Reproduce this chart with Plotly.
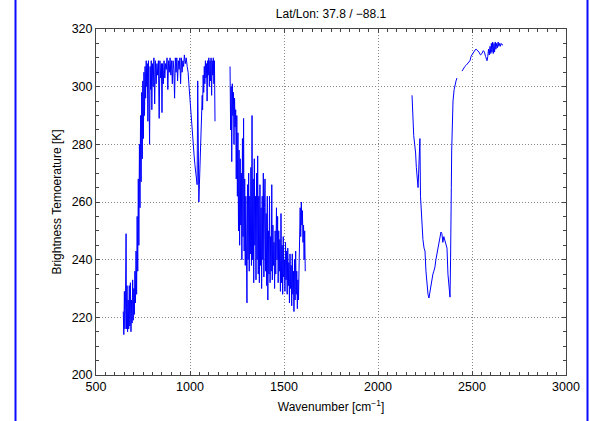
import plotly.graph_objects as go

# Longwave window + CO2 edge (cm-1, K)
wn_lw = [645, 648, 651, 654, 657, 660, 662, 665, 668, 671, 674, 677, 680, 683, 686, 689, 692, 695, 698,
         701, 704, 707, 710, 713, 716, 719, 722, 725, 728, 731, 734, 737, 740, 743, 746, 749, 752, 755,
         758, 761, 764, 767, 770, 773, 776, 779, 782, 785, 788, 791, 794, 797, 800, 804, 808, 812, 816,
         820, 824, 828, 832, 836, 840, 844, 848, 851, 854, 858, 862, 866, 870, 874, 878, 882, 886, 890,
         894, 898, 902, 906, 910, 914, 918, 922, 926, 930, 934, 938, 942, 946, 950, 954, 958, 962, 966,
         970, 975, 980, 985, 990, 994, 998,
         1002, 1006, 1010, 1014, 1018, 1022, 1026, 1030, 1034, 1038, 1041, 1044, 1047, 1050, 1053, 1056,
         1059, 1062, 1065, 1067, 1070, 1073, 1076, 1079, 1082, 1085, 1088, 1091, 1094, 1097, 1100, 1103,
         1106, 1109, 1112, 1115, 1118, 1121, 1124, 1127, 1130, 1133]
tb_lw = [222, 214, 229, 216, 227, 249, 216, 231, 215, 226, 216, 231, 217, 232, 215, 226, 218, 233, 219,
         230, 221, 236, 225, 243, 228, 255, 236, 268, 245, 280, 258, 290, 267, 298, 275, 302, 282, 305,
         290, 307, 296, 309, 300, 308, 288, 309, 297, 280, 307, 299, 309, 292, 308, 300, 310, 294, 309,
         301, 308, 304, 309, 289, 309, 303, 308, 291, 308, 301, 309, 303, 308, 306, 310, 299, 309, 305,
         310, 304, 309, 301, 309, 306, 296, 310, 305, 310, 302, 309, 306, 310, 301, 310, 305, 309, 307,
         311, 308, 310, 307, 305, 301, 297,
         293, 289, 285, 281, 278, 276, 273, 271, 268, 266, 302, 263, 260, 266, 272, 278,
         285, 291, 297, 292, 304, 298, 307, 301, 309, 303, 308, 295, 309, 304, 310, 300,
         309, 302, 310, 297, 309, 304, 310, 301, 309, 288]

# Water vapour band
wn_wv = [1213, 1216, 1219, 1222, 1225, 1228, 1231, 1234, 1237, 1240, 1243, 1246, 1249, 1252, 1255, 1258,
         1261, 1264, 1267, 1270, 1273, 1276, 1279, 1282, 1285, 1288, 1291, 1294, 1297, 1300, 1303, 1306,
         1309, 1312, 1315, 1318, 1321, 1324, 1327, 1330, 1333, 1336, 1339, 1342, 1345, 1348, 1351, 1354,
         1357, 1360, 1363, 1366, 1369, 1372, 1375, 1378, 1381, 1384, 1387, 1390, 1393, 1396, 1399, 1402,
         1405, 1408, 1411, 1414, 1417, 1420, 1423, 1426, 1429, 1432, 1435, 1438, 1441, 1444, 1447, 1450,
         1453, 1456, 1460, 1463, 1466, 1469, 1472, 1475, 1478, 1481, 1484, 1487, 1490, 1493, 1496, 1499,
         1502, 1505, 1508, 1511, 1514, 1517, 1520, 1523, 1526, 1529, 1532, 1535, 1538, 1541, 1544, 1547,
         1550, 1553, 1556, 1559, 1562, 1565, 1568, 1571, 1574, 1577, 1580, 1583, 1586, 1589, 1592, 1595,
         1598, 1601, 1604, 1607, 1610, 1613]
tb_wv = [307, 285, 300, 274, 301, 290, 298, 280, 296, 286, 292, 268, 290, 262, 284, 250,
         278, 245, 275, 252, 270, 240, 282, 248, 289, 243, 268, 238, 262, 246, 225, 266,
         240, 270, 236, 262, 242, 272, 238, 290, 240, 268, 232, 275, 245, 262, 233, 270,
         240, 276, 235, 262, 232, 266, 238, 258, 230, 262, 240, 270, 234, 258, 268, 236,
         256, 231, 262, 226, 250, 235, 262, 232, 248, 236, 266, 233, 252, 238, 246, 230,
         250, 235, 258, 240, 255, 232, 250, 236, 247, 229, 256, 232, 245, 228, 248, 234,
         240, 229, 246, 233, 243, 228, 244, 231, 239, 225, 242, 230, 238, 224, 242, 228,
         236, 222, 240, 226, 243, 228, 236, 223, 233, 226, 244, 240, 258, 248, 260, 252,
         257, 246, 252, 240, 250, 236]

# 4.3 micron CO2 band
wn_co2 = [2181, 2183, 2186, 2190, 2195, 2200, 2204, 2207, 2210, 2213, 2216, 2219, 2223, 2226, 2229, 2234,
          2239, 2245, 2250, 2255, 2261, 2266, 2271, 2276, 2281, 2287, 2292, 2297, 2303, 2308, 2313, 2319,
          2325, 2330, 2335, 2340, 2345, 2350, 2356, 2362, 2367, 2372, 2377, 2383, 2386, 2388, 2390, 2392,
          2394, 2399, 2405, 2410, 2415, 2420]
tb_co2 = [297, 292, 286, 283, 280, 277, 272, 269, 266, 265, 270, 276, 282, 262, 258, 251,
          247, 244, 243, 236, 230.5, 228, 226.7, 229, 231, 233, 235, 236, 237.5, 240, 242, 244,
          246, 248, 249.6, 249, 246, 248, 246.8, 245, 244, 235, 231, 227, 240, 247, 265, 278,
          285, 295, 299, 301, 302, 303]

# Shortwave window
wn_sw = [2447, 2455, 2462, 2470, 2480, 2489, 2495, 2503, 2510, 2516, 2522, 2530, 2537, 2545, 2553, 2560,
         2566, 2572, 2578, 2580, 2584, 2588, 2592, 2596, 2600, 2603, 2606, 2610, 2613, 2617, 2620, 2624,
         2627, 2631, 2635, 2639, 2643, 2647, 2651, 2655, 2660, 2665]
tb_sw = [305.4, 306.5, 307, 307.5, 308.5, 309, 310.5, 311.5, 312, 312.7, 313, 312.5, 312, 311, 311.5, 312.5,
         312, 310.5, 309.5, 309, 310.5, 313, 311, 314, 311.5, 315, 312, 315.5, 311.5, 315, 312, 315.5,
         313, 315, 313.5, 315.5, 314, 315, 314, 315, 314.5, 314.5]

x_all, y_all = [], []
for wx, wy in [(wn_lw, tb_lw), (wn_wv, tb_wv), (wn_co2, tb_co2), (wn_sw, tb_sw)]:
    if x_all:
        x_all.append(None)
        y_all.append(None)
    x_all += wx
    y_all += wy

L, R, T, B = 96, 24, 29, 46
W, H = 590, 421
pw, ph = W - L - R, H - T - B

fig = go.Figure()
fig.add_trace(go.Scatter(x=x_all, y=y_all, mode="lines", connectgaps=False,
                         line=dict(color="#0000ff", width=1), hoverinfo="skip"))

axis_common = dict(showline=True, linecolor="#444", linewidth=1, mirror="ticks",
                   ticks="inside", ticklen=4, tickcolor="#444", automargin=False,
                   showgrid=True, gridcolor="#888", griddash="1px,2px", gridwidth=1,
                   zeroline=False, tickfont=dict(family="Liberation Sans, Arial", size=12.5, color="black"))

fig.update_layout(
    width=W, height=H,
    margin=dict(l=L, r=R, t=T, b=B, autoexpand=False),
    paper_bgcolor="white", plot_bgcolor="white",
    showlegend=False,
    font=dict(family="Liberation Sans, Arial", size=12, color="black"),
    title=dict(text="Lat/Lon: 37.8 / −88.1", x=(L + pw / 2) / W, xanchor="center",
               y=1 - 14 / H, yanchor="middle", yref="container",
               font=dict(size=12, family="Liberation Sans, Arial", color="black")),
    xaxis=dict(range=[500, 3000], tickvals=[500, 1000, 1500, 2000, 2500, 3000],
               minor=dict(dtick=50, ticks="inside", ticklen=3, tickcolor="#444", showgrid=False),
               title=dict(text="Wavenumber [cm<sup>−1</sup>]", standoff=9,
                          font=dict(size=12)),
               **axis_common),
    yaxis=dict(range=[200, 320], tickvals=[200, 220, 240, 260, 280, 300, 320],
               minor=dict(dtick=5, ticks="inside", ticklen=3, tickcolor="#444", showgrid=False),
               title=dict(text="Brightness Temoerature [K]", standoff=7,
                          font=dict(size=12)),
               **axis_common),
    shapes=[
        dict(type="line", xref="paper", yref="paper",
             x0=(15.5 - L) / pw, x1=(15.5 - L) / pw, y0=-B / ph - 0.05, y1=1 + T / ph + 0.05,
             line=dict(color="#0a0aff", width=2)),
        dict(type="line", xref="paper", yref="paper",
             x0=(587.5 - L) / pw, x1=(587.5 - L) / pw, y0=-B / ph - 0.05, y1=1 + T / ph + 0.05,
             line=dict(color="#0a0aff", width=2)),
    ],
)

fig.write_html("out.html", config={"displayModeBar": False, "staticPlot": True},
               post_script="document.body.style.margin='0';document.body.style.overflow='hidden';")
